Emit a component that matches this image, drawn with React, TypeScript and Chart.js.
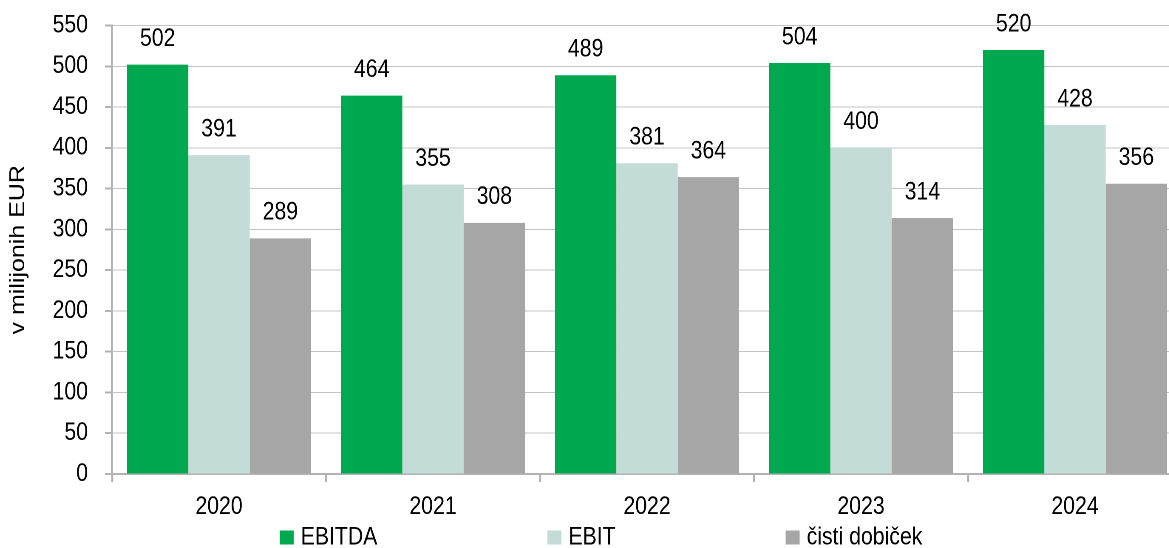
import React, { useEffect, useRef } from "react";
import { Chart, registerables } from "chart.js";

Chart.register(...registerables);

const years = ["2020", "2021", "2022", "2023", "2024"];
const ebitda = [502, 464, 489, 504, 520];
const ebit = [391, 355, 381, 400, 428];
const netProfit = [289, 308, 364, 314, 356];
const seriesNames = ["EBITDA", "EBIT", "čisti dobiček"];
const seriesColors = ["#00A94F", "#C3DCD7", "#A6A6A6"];
const yTitle = "v milijonih EUR";

const FONT = "'Liberation Sans', Arial, sans-serif";
const FS = 25;
// horizontal condensing factor (the reference uses a narrow typeface)
const SX = 0.85;
const px = (v: number) => v / SX;

const valueLabels = {
  id: "valueLabels",
  afterDatasetsDraw(chart: any) {
    const ctx = chart.ctx;
    ctx.save();
    ctx.font = `${FS}px ${FONT}`;
    ctx.fillStyle = "#000";
    ctx.textAlign = "center";
    ctx.textBaseline = "middle";
    chart.data.datasets.forEach((ds: any, i: number) => {
      const meta = chart.getDatasetMeta(i);
      meta.data.forEach((bar: any, j: number) => {
        ctx.fillText(String(ds.data[j]), bar.x, bar.y - 25.5);
      });
    });
    ctx.restore();
  },
};

const customLegend = {
  id: "customLegend",
  afterDraw(chart: any, _args: any, opts: any) {
    const ctx = chart.ctx;
    ctx.save();
    ctx.font = `${FS}px ${FONT}`;
    ctx.textBaseline = "middle";
    ctx.textAlign = "left";
    const boxW = px(14);
    const boxH = 14;
    const gapText = px(7);
    const gapItem = px(170);
    const items = chart.data.datasets.map((ds: any) => ({
      label: ds.label,
      color: ds.backgroundColor,
      w: boxW + gapText + ctx.measureText(ds.label).width,
    }));
    const total = items.reduce((s: number, it: any) => s + it.w, 0) + gapItem * (items.length - 1);
    let x = opts.centerX - total / 2;
    const y = opts.y;
    items.forEach((it: any) => {
      ctx.fillStyle = it.color;
      ctx.fillRect(x, y - boxH / 2, boxW, boxH);
      ctx.fillStyle = "#000";
      ctx.fillText(it.label, x + boxW + gapText, y);
      x += it.w + gapItem;
    });
    ctx.restore();
  },
};

export default function App() {
  const ref = useRef<HTMLCanvasElement | null>(null);
  useEffect(() => {
    if (!ref.current) return;
    Chart.defaults.font.family = FONT;
    Chart.defaults.font.size = FS;
    Chart.defaults.color = "#000";
    const chart = new Chart(ref.current, {
      type: "bar",
      data: {
        labels: years,
        datasets: [
          { label: seriesNames[0], data: ebitda, backgroundColor: seriesColors[0] },
          { label: seriesNames[1], data: ebit, backgroundColor: seriesColors[1] },
          { label: seriesNames[2], data: netProfit, backgroundColor: seriesColors[2] },
        ],
      },
      options: {
        animation: false,
        responsive: true,
        maintainAspectRatio: false,
        devicePixelRatio: 2,
        layout: { padding: { top: 25.5, right: px(8), left: 0, bottom: 0 } },
        datasets: { bar: { categoryPercentage: 0.86, barPercentage: 1.0 } },
        plugins: {
          legend: { display: false },
          tooltip: { enabled: false },
          customLegend: { centerX: px(601), y: 537.5 },
        } as any,
        scales: {
          x: {
            offset: true,
            grid: {
              offset: true,
              drawOnChartArea: false,
              drawTicks: true,
              tickLength: 8,
              tickColor: "#B3B3B3",
              tickWidth: px(2),
            },
            border: { display: true, color: "#B3B3B3", width: 2 },
            ticks: { padding: 10, font: { size: FS }, color: "#000" },
            afterFit(scale: any) {
              scale.height = 74;
            },
          },
          y: {
            min: 0,
            max: 550,
            ticks: { stepSize: 50, padding: px(17), font: { size: FS }, color: "#000" },
            grid: {
              color: "#C4C4C4",
              lineWidth: 1,
              borderDash: [2, 2],
              drawTicks: true,
              tickLength: px(7),
              tickColor: "#B3B3B3",
              tickWidth: 2,
              tickBorderDash: [],
            },
            border: { display: true, color: "#B3B3B3", width: px(2) },
            title: {
              display: true,
              text: yTitle,
              font: { size: FS, lineHeight: 1.2 },
              color: "#000",
              padding: { top: px(18.5) - 15, bottom: 0 },
            },
            afterFit(scale: any) {
              scale.width = px(112);
              scale.paddingTop = 0;
              scale.paddingBottom = 0;
            },
          },
        },
      },
      plugins: [valueLabels, customLegend],
    });
    return () => chart.destroy();
  }, []);
  return (
    <div
      style={{
        position: "fixed",
        left: 0,
        top: 0,
        width: 1169,
        height: 548,
        overflow: "hidden",
        background: "#fff",
      }}
    >
      <div
        style={{
          position: "relative",
          width: px(1190),
          height: 548,
          transform: `scaleX(${SX})`,
          transformOrigin: "0 0",
        }}
      >
        <canvas ref={ref} />
      </div>
    </div>
  );
}
